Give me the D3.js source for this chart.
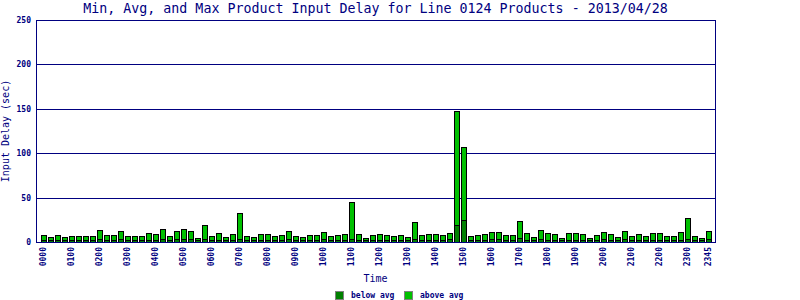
<!DOCTYPE html>
<html>
<head>
<meta charset="utf-8">
<script src="https://cdn.jsdelivr.net/npm/d3@7"></script>
<style>
  body { margin: 0; background: #fff; }
  text { font-family: "DejaVu Sans Mono", monospace; fill: #000080; }
</style>
</head>
<body>
<div class="chart"></div>
<script>
// time slots, every 15 minutes
var times = [
  "0000","0015","0030","0045","0100","0115","0130","0145",
  "0200","0215","0230","0245","0300","0315","0330","0345",
  "0400","0415","0430","0445","0500","0515","0530","0545",
  "0600","0615","0630","0645","0700","0715","0730","0745",
  "0800","0815","0830","0845","0900","0915","0930","0945",
  "1000","1015","1030","1045","1100","1115","1130","1145",
  "1200","1215","1230","1245","1300","1315","1330","1345",
  "1400","1415","1430","1445","1500","1515","1530","1545",
  "1600","1615","1630","1645","1700","1715","1730","1745",
  "1800","1815","1830","1845","1900","1915","1930","1945",
  "2000","2015","2030","2045","2100","2115","2130","2145",
  "2200","2215","2230","2245","2300","2315","2330","2345"
];

// tick labels shown on the x axis
var timeTicks = ["0000","0100","0200","0300","0400","0500","0600","0700",
  "0800","0900","1000","1100","1200","1300","1400","1500","1600","1700",
  "1800","1900","2000","2100","2200","2300","2345"];

// average delay (sec) - the "below avg" part of each bar
var avgDelay = [
  2, 2, 2, 2, 2, 2, 2, 2,   3, 2, 2, 3, 2, 2, 2, 2,
  2, 3, 2, 3, 3, 3, 2, 3,   2, 2, 2, 2, 3.5, 2, 2, 2,
  2, 2, 2, 3, 2, 2, 2, 2,   3, 2, 2, 2, 3, 2, 2, 2,
  2, 2, 2, 2, 2, 3.5, 2, 2, 2, 2, 3, 19, 25, 2, 2, 2,
  3, 3, 2, 2, 4.5, 2, 2, 3, 2, 2, 2, 2, 2, 2, 2, 2,
  3, 2, 2, 3, 2, 2, 2, 2,   2, 2, 2, 2, 3.5, 2, 2, 3
];

// max delay (sec) - top of each bar
var maxDelay = [
  8, 5.5, 8, 5.5, 7, 7, 7, 7,   13.5, 8, 8, 12.5, 7, 7, 7, 10,
  9, 14.5, 7, 12, 14.5, 12, 4.5, 19,   7, 10, 5.5, 9, 32.5, 7, 6, 9,
  9, 7, 8, 12, 7, 6, 8, 8,   11, 7, 8, 9, 45, 9, 4.5, 8,
  9, 8, 7, 8, 6, 22.5, 8, 9,   9, 8, 10, 148, 107, 7, 8, 9,
  11, 11, 8, 8, 23.5, 10, 5.5, 13.5,   10, 9, 4.5, 10, 10, 9, 4.5, 8,
  11, 9, 5.5, 12.5, 7, 9, 7, 10,   10, 7, 7, 11, 27, 7, 4.5, 12.5
];

var yTicks = [0, 50, 100, 150, 200, 250];
var seriesNames = ["below avg", "above avg"];
var seriesColors = ["#008000", "#00c000"];

var svgWidth = 800;
var svgHeight = 300;
var plot = { left: 36, right: 715, top: 20, bottom: 242 };
var navy = "#000080";

var svg = d3.select(".chart")
  .append("svg")
  .attr("width", svgWidth)
  .attr("height", svgHeight);

// rows for the stack: below = avg, above = max - avg
var rows = times.map(function(t, i) {
  return { time: t, below: avgDelay[i], above: maxDelay[i] - avgDelay[i] };
});
var stacked = d3.stack().keys(["below", "above"])(rows);

var xScale = d3.scaleBand()
  .domain(times)
  .range([40, 712]);

var yScale = d3.scaleLinear()
  .domain([0, 250])
  .range([plot.bottom, plot.top]);

function py(v) { return Math.round(yScale(v)) + 0.5; }

// horizontal grid lines
svg.append("g")
  .selectAll("line")
  .data(yTicks.slice(1))
  .enter()
  .append("line")
  .attr("x1", plot.left)
  .attr("x2", plot.right)
  .attr("y1", d => py(d))
  .attr("y2", d => py(d))
  .attr("stroke", navy)
  .attr("stroke-width", 1);

// right border
svg.append("line")
  .attr("x1", plot.right + 0.5).attr("x2", plot.right + 0.5)
  .attr("y1", plot.top).attr("y2", plot.bottom + 1)
  .attr("stroke", navy);

// bars
svg.append("g")
  .selectAll("g")
  .data(stacked)
  .enter()
  .append("g")
  .attr("fill", (d, i) => seriesColors[i])
  .selectAll("rect")
  .data(d => d)
  .enter()
  .append("rect")
  .attr("x", d => xScale(d.data.time) + 1.5)
  .attr("width", 5)
  .attr("y", d => Math.round(yScale(d[1])) + 0.5)
  .attr("height", d => Math.round(yScale(d[0])) - Math.round(yScale(d[1])))
  .attr("stroke", "#000")
  .attr("stroke-width", 1);

// left axis
var leftAxis = d3.axisLeft(yScale).tickValues(yTicks).tickSize(0).tickPadding(5);
var yAxisG = svg.append("g")
  .attr("transform", `translate(${plot.left}, 0)`)
  .call(leftAxis);
yAxisG.select(".domain").remove();
yAxisG.selectAll("text")
  .attr("fill", navy)
  .style("font-size", "8px")
  .style("font-weight", "bold")
  .style("font-family", "DejaVu Sans Mono, monospace");

svg.append("line")
  .attr("x1", plot.left + 0.5).attr("x2", plot.left + 0.5)
  .attr("y1", plot.top).attr("y2", plot.bottom + 1)
  .attr("stroke", navy);

// bottom axis
var bottomAxis = d3.axisBottom(xScale).tickValues(timeTicks).tickSize(0);
var xAxisG = svg.append("g")
  .attr("transform", `translate(0, ${plot.bottom})`)
  .call(bottomAxis);
xAxisG.select(".domain").remove();
xAxisG.selectAll("text")
  .attr("transform", "rotate(-90)")
  .attr("x", -5)
  .attr("y", 0)
  .attr("dy", "0.35em")
  .attr("fill", navy)
  .style("text-anchor", "end")
  .style("font-size", "8px")
  .style("font-weight", "bold")
  .style("font-family", "DejaVu Sans Mono, monospace");

svg.append("line")
  .attr("x1", plot.left).attr("x2", plot.right + 1)
  .attr("y1", plot.bottom + 0.5).attr("y2", plot.bottom + 0.5)
  .attr("stroke", navy);

// titles
svg.append("text")
  .attr("x", (plot.left + plot.right) / 2)
  .attr("y", 13)
  .attr("text-anchor", "middle")
  .style("font-size", "13.3px")
  .text("Min, Avg, and Max Product Input Delay for Line 0124 Products - 2013/04/28");

svg.append("text")
  .attr("x", (plot.left + plot.right) / 2)
  .attr("y", 282)
  .attr("text-anchor", "middle")
  .style("font-size", "10px")
  .text("Time");

svg.append("text")
  .attr("transform", `translate(9, ${(plot.top + plot.bottom) / 2}) rotate(-90)`)
  .attr("text-anchor", "middle")
  .style("font-size", "10px")
  .text("Input Delay (sec)");

// legend
var legend = svg.append("g")
  .selectAll("g")
  .data(seriesNames)
  .enter()
  .append("g")
  .attr("transform", (d, i) => `translate(${335 + i * 69}, 291)`);

legend.append("rect")
  .attr("x", 0.5).attr("y", 0.5)
  .attr("width", 8).attr("height", 8)
  .attr("fill", (d, i) => seriesColors[i])
  .attr("stroke", "#808080");

legend.append("text")
  .attr("x", 16)
  .attr("y", 7)
  .style("font-size", "8px")
  .style("font-weight", "bold")
  .text(d => d);
</script>
</body>
</html>
